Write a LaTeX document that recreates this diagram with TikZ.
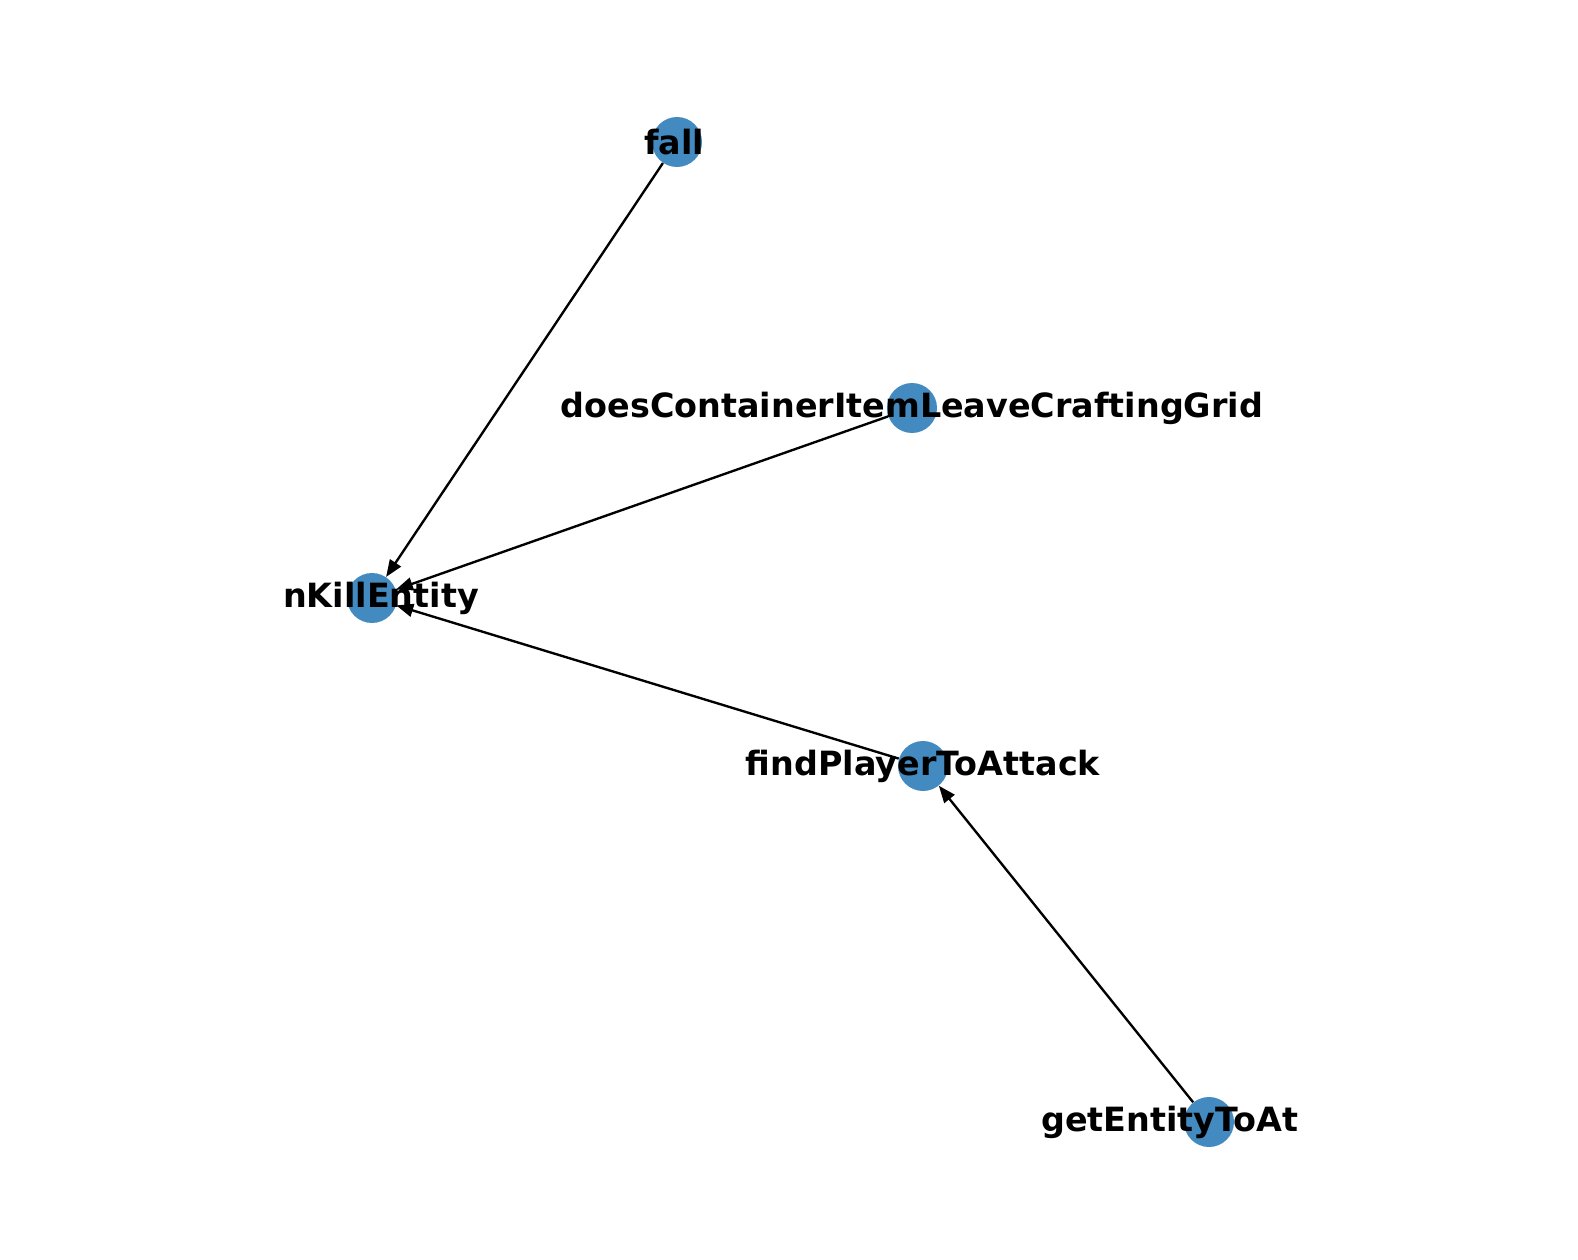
\documentclass[tikz,border=0pt]{standalone}
\usepackage{fontspec}
\setmainfont{DejaVu Sans}
\usetikzlibrary{arrows.meta}
\definecolor{nodeblue}{RGB}{66,138,191}
\tikzset{
	vertex/.style={circle, fill=nodeblue, inner sep=0pt, minimum size=1cm},
	vlabel/.style={inner sep=0pt, font=\fontsize{19}{23}\selectfont\bfseries},
	edge/.style={line width=1.35pt, -{Triangle[length=0.34cm, width=0.26cm]}}
}

\begin{document}
\begin{tikzpicture}[x=0.02cm, y=-0.02cm]
		%%%%% START %%%%%
		
		\useasboundingbox (0, 0) rectangle (1578, 1260);
		
		\node[vertex] (fall) at (677, 142) {};
		\node[vertex] (leave) at (912, 408) {};
		\node[vertex] (kill) at (372, 598) {};
		\node[vertex] (find) at (923, 766) {};
		\node[vertex] (get) at (1209, 1122) {};
		
		\draw[edge] (fall) -- (kill);
		\draw[edge] (leave) -- (kill);
		\draw[edge] (find) -- (kill);
		\draw[edge] (get) -- (find);
		
		\node[vlabel] (fall-t) at (674, 142) {fall};
		\node[vlabel] (leave-t) at (912, 408) {doesContainerItemLeaveCraftingGrid};
		\node[vlabel] (kill-t) at (381, 598) {nKillEntity};
		\node[vlabel] (find-t) at (923, 766) {findPlayerToAttack};
		\node[vlabel] (get-t) at (1170, 1122) {getEntityToAt};
		
		%%%%% END %%%%%
	\end{tikzpicture}
\end{document}
